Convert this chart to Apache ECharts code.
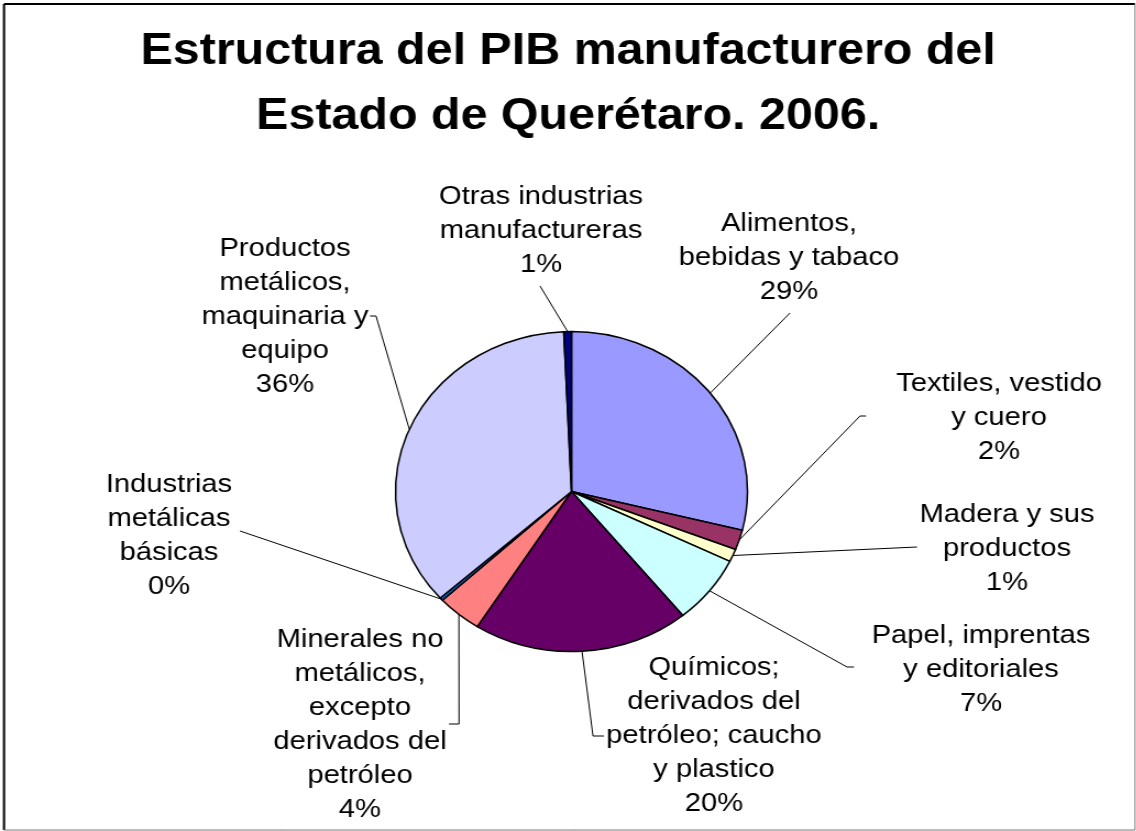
<!DOCTYPE html>
<html>
<head>
<meta charset="utf-8">
<script src="https://cdn.jsdelivr.net/npm/echarts@6/dist/echarts.min.js"></script>
<style>
html,body{margin:0;padding:0;background:#fff;overflow:hidden;}
#chart{height:831px;transform-origin:0 0;}
</style>
</head>
<body>
<div id="chart"></div>
<script>
// ---- data ----
const categories = [
  "Alimentos,\nbebidas y tabaco",
  "Textiles, vestido\ny cuero",
  "Madera y sus\nproductos",
  "Papel, imprentas\ny editoriales",
  "Químicos;\nderivados del\npetróleo; caucho\ny plastico",
  "Minerales no\nmetálicos,\nexcepto\nderivados del\npetróleo",
  "Industrias\nmetálicas\nbásicas",
  "Productos\nmetálicos,\nmaquinaria y\nequipo",
  "Otras industrias\nmanufactureras"
];
const shares = [28.9, 2.0, 1.3, 6.9, 19.9, 4.1, 0.3, 35.9, 0.7];
const sliceColors = ["#9999FF","#993366","#FFFFCC","#CCFFFF","#660066","#FF8080","#0066CC","#CCCCFF","#000080"];
const titleText = "Estructura del PIB manufacturero del\nEstado de Querétaro. 2006.";

// ---- layout (screen px) ----
const S = 1.1; // horizontal stretch of the original picture
const W = 1136 / S;
const labelCenters = [
  [789, 258], [999, 418], [1007, 549], [981, 670], [714, 736],
  [360, 725], [169, 536], [285, 317], [541, 231]
];
const lineEnds = [
  [[790, 313],[790, 313]],
  [[860, 416],[866, 416]],
  [[917, 547],[917, 547]],
  [[847, 667],[854, 667]],
  [[593, 736],[604, 736]],
  [[459, 724],[449, 724]],
  [[240, 531],[240, 531]],
  [[376, 316],[370, 316]],
  [[540, 286],[540, 286]]
];

const el = document.getElementById('chart');
el.style.width = W + 'px';
el.style.transform = 'scaleX(' + S + ')';
const chart = echarts.init(el, null, {renderer: 'canvas'});
const FONT = "'Liberation Sans', Arial, sans-serif";

chart.setOption({
  animation: false,
  backgroundColor: '#fff',
  title: {
    text: titleText,
    left: 'center',
    top: 19,
    padding: 0,
    textStyle: {fontFamily: FONT, fontWeight: 'bold', fontSize: 44, lineHeight: 65, color: '#000'}
  },
  graphic: [
    {type: 'line', shape: {x1: 4/S, y1: 4, x2: 1135/S, y2: 4}, style: {stroke: '#000', lineWidth: 2}},
    {type: 'line', shape: {x1: 4/S, y1: 4, x2: 4/S, y2: 830}, style: {stroke: '#000', lineWidth: 2}},
    {type: 'line', shape: {x1: 1135/S, y1: 4, x2: 1135/S, y2: 830}, style: {stroke: '#777', lineWidth: 1}},
    {type: 'line', shape: {x1: 4/S, y1: 830, x2: 1135/S, y2: 830}, style: {stroke: '#777', lineWidth: 1}}
  ],
  series: [{
    type: 'pie',
    center: [571.5 / S, 491.5],
    radius: 160,
    startAngle: 90,
    clockwise: true,
    avoidLabelOverlap: false,
    itemStyle: {borderColor: '#000', borderWidth: 1.5},
    label: {
      show: true,
      position: 'outside',
      fontFamily: FONT,
      fontSize: 26.5,
      lineHeight: 34,
      color: '#000',
      align: 'center',
      formatter: p => p.name + '\n' + Math.round(p.percent) + '%'
    },
    labelLine: {show: true, length: 10, length2: 10, lineStyle: {color: '#000', width: 1}},
    labelLayout: function (params) {
      const i = params.dataIndex;
      const c = labelCenters[i];
      const e = lineEnds[i];
      const start = params.labelLinePoints ? params.labelLinePoints[0] : [e[0][0]/S, e[0][1]];
      return {
        x: c[0] / S,
        y: c[1],
        align: 'center',
        verticalAlign: 'middle',
        labelLinePoints: [[start[0], start[1]], [e[0][0]/S, e[0][1]], [e[1][0]/S, e[1][1]]]
      };
    },
    data: categories.map((n, i) => ({name: n, value: shares[i], itemStyle: {color: sliceColors[i]}}))
  }]
});
</script>
</body>
</html>
